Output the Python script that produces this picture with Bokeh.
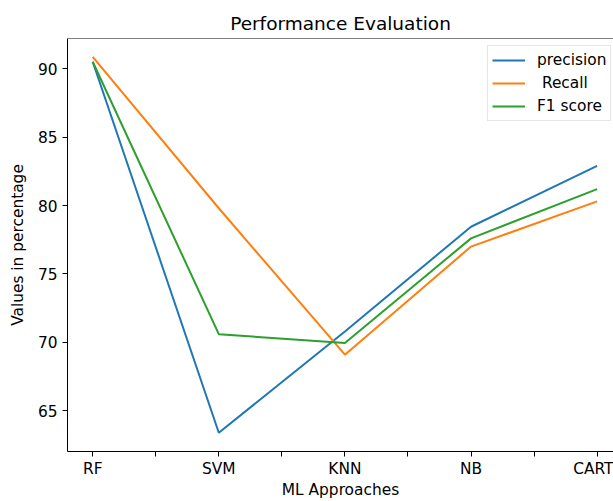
from bokeh.plotting import figure
from bokeh.models import FixedTicker, Range1d, Span, Legend, LegendItem
from bokeh.embed import file_html
from bokeh.resources import INLINE

approaches = ["RF", "SVM", "KNN", "NB", "CART"]
precision = [90.5, 63.4, 70.8, 78.45, 82.9]
recall = [90.85, 79.8, 69.1, 77.0, 80.3]
f1_score = [90.5, 70.6, 69.95, 77.6, 81.2]
series_names = ["precision", " Recall", "F1 score"]
series_colors = ["#1f77b4", "#ff7f0e", "#2ca02c"]
y_ticks = [65, 70, 75, 80, 85, 90]

FONT = "DejaVu Sans"
xs = list(range(len(approaches)))

p = figure(width=613, height=501, output_backend="svg", toolbar_location=None,
           x_range=Range1d(-0.2, 4.13), y_range=Range1d(62.03, 92.2),
           min_border_left=67, min_border_right=0, min_border_top=38, min_border_bottom=50)
p.title.text = "Performance Evaluation"
p.title.align = "center"
p.title.text_font = FONT
p.title.text_font_size = "18.5px"
p.title.text_font_style = "normal"
p.title.text_color = "#000000"
p.title.standoff = 9

p.grid.visible = False
p.outline_line_color = None
p.background_fill_color = "white"
p.border_fill_color = "white"

renderers = []
for vals, col in zip([precision, recall, f1_score], series_colors):
    r = p.line(xs, vals, line_color=col, line_width=2)
    renderers.append(r)

top = Span(location=p.y_range.end, dimension="width", line_color="black", line_width=1)
p.add_layout(top)

tick_pos = []
overrides = {}
for i, name in enumerate(approaches):
    tick_pos.append(i)
    overrides[i] = name
    if i < len(approaches) - 1:
        tick_pos.append(i + 0.5)
        overrides[i + 0.5] = ""

for ax in [p.xaxis[0], p.yaxis[0]]:
    ax.axis_line_color = "black"
    ax.axis_line_width = 1
    ax.major_tick_line_color = "black"
    ax.major_tick_out = 5
    ax.major_tick_in = 0
    ax.minor_tick_line_color = None
    ax.major_label_text_font = FONT
    ax.major_label_text_font_size = "15.4px"
    ax.major_label_text_color = "#000000"
    ax.axis_label_text_font = FONT
    ax.axis_label_text_font_size = "15.4px"
    ax.axis_label_text_font_style = "normal"
    ax.axis_label_text_color = "#000000"

p.xaxis.ticker = FixedTicker(ticks=tick_pos)
p.xaxis.major_label_overrides = overrides
p.xaxis.axis_label = "ML Approaches"
p.xaxis.major_label_standoff = 3
p.xaxis.axis_label_standoff = 0

p.yaxis.ticker = FixedTicker(ticks=y_ticks)
p.yaxis.axis_label = "Values in percentage"
p.yaxis.major_label_standoff = 5
p.yaxis.axis_label_standoff = 8

legend = Legend(items=[LegendItem(label=n, renderers=[r]) for n, r in zip(series_names, renderers)],
                location=(420, 330))
legend.label_text_font = FONT
legend.label_text_font_size = "15.4px"
legend.label_text_color = "#000000"
legend.glyph_width = 33
legend.glyph_height = 20
legend.label_height = 20
legend.label_standoff = 12
legend.spacing = 3
legend.padding = 4
legend.margin = 0
legend.border_line_color = "#cccccc"
legend.border_line_width = 1
legend.background_fill_alpha = 0.8
p.add_layout(legend)

open("out.html", "w").write(file_html(p, INLINE))
